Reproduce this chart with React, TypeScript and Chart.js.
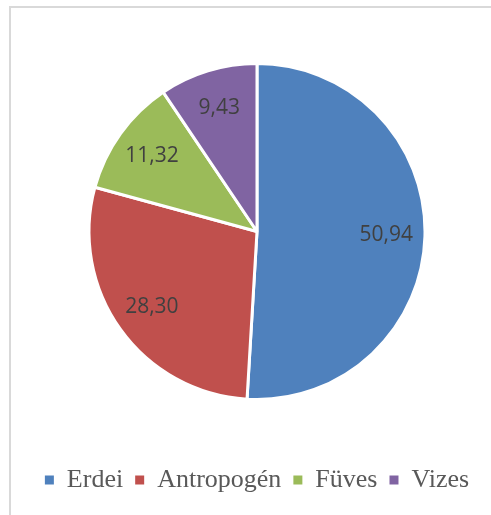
import React, { useEffect, useRef } from "react";
import { Chart, registerables } from "chart.js";

Chart.register(...registerables);

const categories = ["Erdei", "Antropogén", "Füves", "Vizes"];
const values = [50.94, 28.3, 11.32, 9.43];
const colors = ["#4F81BD", "#C0504D", "#9BBB59", "#8064A2"];

const pieLabels = {
  id: "pieLabels",
  afterDatasetsDraw(chart: any) {
    const ctx = chart.ctx;
    const meta = chart.getDatasetMeta(0);
    const data = chart.data.datasets[0].data as number[];
    ctx.save();
    ctx.font = "21px 'Open Sans', 'Liberation Sans', sans-serif";
    ctx.fillStyle = "#404040";
    ctx.textAlign = "center";
    ctx.textBaseline = "middle";
    meta.data.forEach((arc: any, i: number) => {
      const p = arc.getProps(["x", "y", "startAngle", "endAngle", "outerRadius"], true);
      const mid = (p.startAngle + p.endAngle) / 2;
      const r = p.outerRadius * 0.77;
      const x = p.x + Math.cos(mid) * r;
      const y = p.y + Math.sin(mid) * r;
      ctx.fillText(data[i].toFixed(2).replace(".", ","), x, y);
    });
    ctx.restore();
  },
};

export default function App() {
  const ref = useRef<HTMLCanvasElement | null>(null);
  useEffect(() => {
    if (!ref.current) return;
    const chart = new Chart(ref.current, {
      type: "pie",
      data: {
        labels: categories,
        datasets: [
          {
            data: values,
            backgroundColor: colors,
            borderColor: "#FFFFFF",
            borderWidth: 3,
            radius: 168,
          } as any,
        ],
      },
      options: {
        responsive: false,
        animation: false,
        devicePixelRatio: 1,
        layout: { padding: { top: 8, bottom: 12, left: 23, right: 0 } },
        plugins: {
          tooltip: { enabled: false },
          legend: {
            position: "bottom",
            labels: {
              boxWidth: 9,
              boxHeight: 9,
              padding: 12,
              color: "#595959",
              font: { family: "'Liberation Serif', 'Times New Roman', serif", size: 26 },
              generateLabels(chart: any) {
                const items = Chart.overrides.pie.plugins.legend.labels.generateLabels(chart);
                return items.map((it: any) => ({ ...it, lineWidth: 0, strokeStyle: "rgba(0,0,0,0)" }));
              },
            },
          },
        },
      },
      plugins: [pieLabels],
    });
    return () => chart.destroy();
  }, []);
  return (
    <div style={{ position: "fixed", left: 0, top: 0, width: 491, height: 515, overflow: "hidden", background: "#fff" }}>
      <div
        style={{
          position: "absolute",
          left: 9,
          top: 6,
          width: 700,
          height: 700,
          border: "2px solid #D9D9D9",
          boxSizing: "border-box",
        }}
      />
      <canvas ref={ref} width={491} height={515} style={{ position: "absolute", left: 0, top: 0, display: "block" }} />
    </div>
  );
}
